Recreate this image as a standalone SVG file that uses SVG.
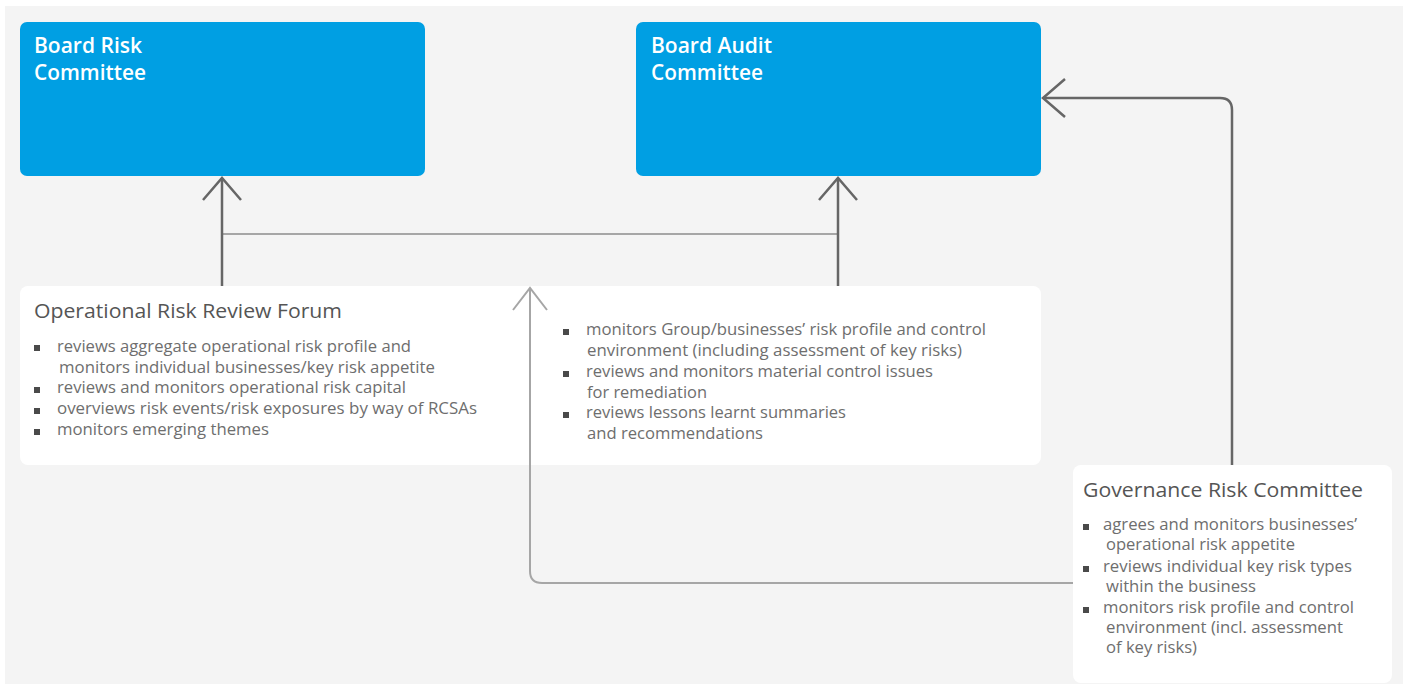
<svg xmlns="http://www.w3.org/2000/svg" width="1406" height="688" viewBox="0 0 1406 688">
<style>
.bg{fill:#f4f4f4}
.blue{fill:#009fe3}
.white{fill:#ffffff}
.bt{font-family:"Open Sans","Noto Sans","Liberation Sans",sans-serif;font-size:21px;font-weight:600;fill:#ffffff}
.ht{font-family:"Open Sans","Noto Sans","Liberation Sans",sans-serif;font-size:20px;fill:#555555}
.tx{font-family:"Open Sans","Noto Sans","Liberation Sans",sans-serif;font-size:15.5px;fill:#6e6e6e}
.sq{fill:#4a4a4a}
.dark{fill:none;stroke:#666666;stroke-width:2.5}
.light{fill:none;stroke:#a6a6a6;stroke-width:2}
</style>
<defs>
<marker id="arrDark" markerUnits="userSpaceOnUse" viewBox="0 0 26 42" markerWidth="26" markerHeight="42" refX="23" refY="21" orient="auto">
<path d="M1,2 L23,21 L1,40" fill="none" stroke="#666666" stroke-width="2.5"/>
</marker>
<marker id="arrLight" markerUnits="userSpaceOnUse" viewBox="0 0 26 42" markerWidth="26" markerHeight="42" refX="23" refY="21" orient="auto">
<path d="M1,4 L23,21 L1,38" fill="none" stroke="#a6a6a6" stroke-width="2"/>
</marker>
</defs>
<rect x="5" y="6" width="1398" height="678" class="bg"/>

<g id="board-risk-committee">
<rect x="20" y="22" width="405" height="154" rx="7" class="blue"/>
<text x="34" y="53" class="bt" textLength="108" lengthAdjust="spacingAndGlyphs">Board Risk</text>
<text x="34" y="80" class="bt" textLength="112" lengthAdjust="spacingAndGlyphs">Committee</text>
</g>

<g id="board-audit-committee">
<rect x="636" y="22" width="405" height="154" rx="7" class="blue"/>
<text x="651" y="53" class="bt" textLength="121" lengthAdjust="spacingAndGlyphs">Board Audit</text>
<text x="651" y="80" class="bt" textLength="112" lengthAdjust="spacingAndGlyphs">Committee</text>
</g>

<g id="operational-risk-review-forum">
<rect x="20" y="286" width="1021" height="179" rx="8" class="white"/>
<text x="34" y="318" class="ht" textLength="308" lengthAdjust="spacingAndGlyphs">Operational Risk Review Forum</text>
<rect x="34" y="345" width="6" height="6" class="sq"/>
<text x="57" y="352" class="tx" textLength="354" lengthAdjust="spacingAndGlyphs">reviews aggregate operational risk profile and</text>
<text x="59" y="373" class="tx" textLength="376" lengthAdjust="spacingAndGlyphs">monitors individual businesses/key risk appetite</text>
<rect x="34" y="387" width="6" height="6" class="sq"/>
<text x="57" y="393" class="tx" textLength="349" lengthAdjust="spacingAndGlyphs">reviews and monitors operational risk capital</text>
<rect x="34" y="408" width="6" height="6" class="sq"/>
<text x="57" y="414" class="tx" textLength="420" lengthAdjust="spacingAndGlyphs">overviews risk events/risk exposures by way of RCSAs</text>
<rect x="34" y="429" width="6" height="6" class="sq"/>
<text x="57" y="435" class="tx" textLength="212" lengthAdjust="spacingAndGlyphs">monitors emerging themes</text>

<rect x="563" y="329" width="6" height="6" class="sq"/>
<text x="586" y="335" class="tx" textLength="400" lengthAdjust="spacingAndGlyphs">monitors Group/businesses’ risk profile and control</text>
<text x="587" y="356" class="tx" textLength="375" lengthAdjust="spacingAndGlyphs">environment (including assessment of key risks)</text>
<rect x="563" y="371" width="6" height="6" class="sq"/>
<text x="586" y="377" class="tx" textLength="347" lengthAdjust="spacingAndGlyphs">reviews and monitors material control issues</text>
<text x="587" y="398" class="tx" textLength="120" lengthAdjust="spacingAndGlyphs">for remediation</text>
<rect x="563" y="412" width="6" height="6" class="sq"/>
<text x="586" y="418" class="tx" textLength="260" lengthAdjust="spacingAndGlyphs">reviews lessons learnt summaries</text>
<text x="587" y="439" class="tx" textLength="176" lengthAdjust="spacingAndGlyphs">and recommendations</text>
</g>

<g id="governance-risk-committee">
<rect x="1073" y="465" width="319" height="218" rx="8" class="white"/>
<text x="1083" y="497" class="ht" textLength="280" lengthAdjust="spacingAndGlyphs">Governance Risk Committee</text>
<rect x="1083" y="524" width="6" height="6" class="sq"/>
<text x="1103" y="530" class="tx" textLength="254" lengthAdjust="spacingAndGlyphs">agrees and monitors businesses’</text>
<text x="1106" y="550" class="tx" textLength="189" lengthAdjust="spacingAndGlyphs">operational risk appetite</text>
<rect x="1083" y="566" width="6" height="6" class="sq"/>
<text x="1103" y="572" class="tx" textLength="249" lengthAdjust="spacingAndGlyphs">reviews individual key risk types</text>
<text x="1106" y="592" class="tx" textLength="150" lengthAdjust="spacingAndGlyphs">within the business</text>
<rect x="1083" y="607" width="6" height="6" class="sq"/>
<text x="1103" y="613" class="tx" textLength="251" lengthAdjust="spacingAndGlyphs">monitors risk profile and control</text>
<text x="1106" y="633" class="tx" textLength="237" lengthAdjust="spacingAndGlyphs">environment (incl. assessment</text>
<text x="1106" y="653" class="tx" textLength="91" lengthAdjust="spacingAndGlyphs">of key risks)</text>
</g>

<g id="connectors">
<path d="M222,234 H838" class="light"/>
<path d="M222,286 V178" class="dark" marker-end="url(#arrDark)"/>
<path d="M838,286 V178" class="dark" marker-end="url(#arrDark)"/>
<path d="M1232,465 V110 Q1232,98 1220,98 H1043" class="dark" marker-end="url(#arrDark)"/>
<path d="M1073,583 H542 Q530,583 530,571 V288" class="light" marker-end="url(#arrLight)"/>
</g>
</svg>
